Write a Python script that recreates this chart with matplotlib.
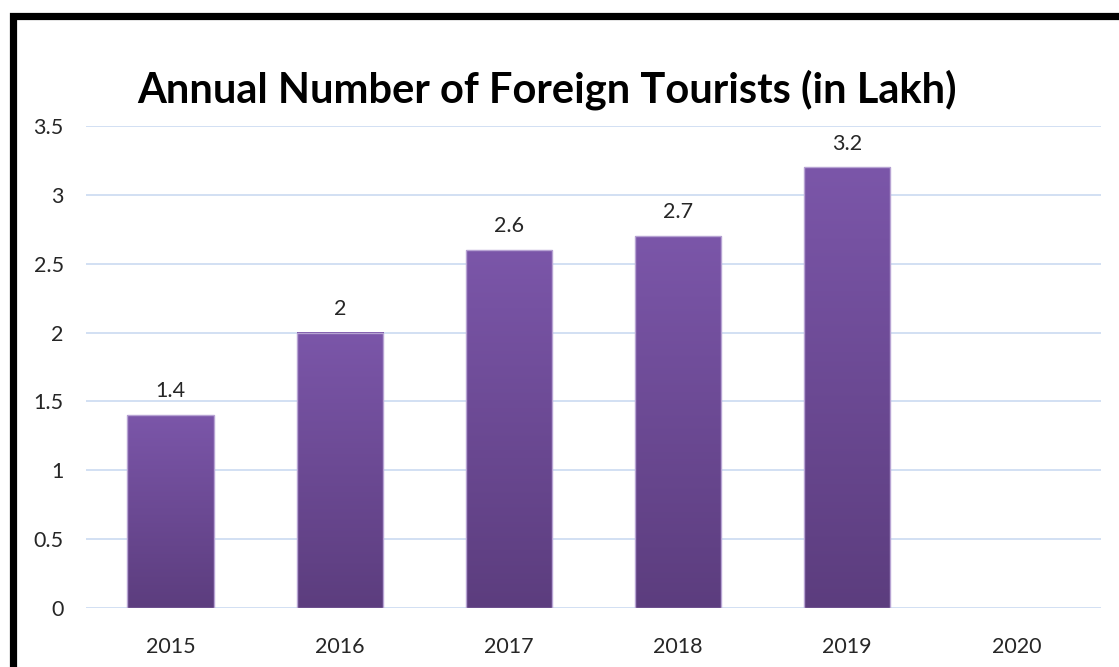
"""
Annual number of foreign tourists - bar chart with gradient bars
"""
import numpy as np
import matplotlib.pyplot as plt
from matplotlib.colors import LinearSegmentedColormap
from matplotlib.patches import Rectangle

# Data
years = ['2015', '2016', '2017', '2018', '2019', '2020']
tourists = [1.4, 2.0, 2.6, 2.7, 3.2, np.nan]   # 2020 has no bar
value_labels = ['1.4', '2', '2.6', '2.7', '3.2', '']
yticks = [0, 0.5, 1, 1.5, 2, 2.5, 3, 3.5]
ytick_labels = ['0', '0.5', '1', '1.5', '2', '2.5', '3', '3.5']

plt.rcParams['font.family'] = ['Lato', 'DejaVu Sans']

fig = plt.figure(figsize=(11.19, 6.67), dpi=100)
ax = fig.add_axes([0.0769, 0.0885, 0.907, 0.7225])

x = np.arange(len(years))
heights = np.nan_to_num(tourists)
bars = ax.bar(x, heights, width=0.51, color='none', edgecolor='none', zorder=2)

# gradient fill for each bar (light purple on top, darker at bottom)
cmap = LinearSegmentedColormap.from_list('purp', ['#5C3D7E', '#7B56A9'])
grad = np.linspace(0, 1, 256).reshape(-1, 1)
for b, v, lab in zip(bars, tourists, value_labels):
    if np.isnan(v):
        continue
    x0 = b.get_x()
    x1 = x0 + b.get_width()
    ax.imshow(grad, cmap=cmap, origin='lower', aspect='auto',
              extent=(x0, x1, 0, v), zorder=3)
    ax.add_patch(Rectangle((x0, 0), b.get_width(), v, fill=False,
                           edgecolor='#B7A3D3', linewidth=1.0, zorder=4))
    ax.text(x0 + b.get_width() / 2, v + 0.1, lab, ha='center', va='bottom',
            fontsize=15.5, color='#262626')

ax.set_xlim(-0.5, len(years) - 0.5)
ax.set_ylim(0, 3.5)
ax.set_xticks(x)
ax.set_xticklabels(years, fontsize=15.5, color='#262626')
ax.set_yticks(yticks)
ax.set_yticklabels(ytick_labels, fontsize=15.5, color='#262626')
ax.tick_params(length=0)
ax.tick_params(axis='x', pad=21)
ax.tick_params(axis='y', pad=16)
ax.grid(axis='y', color='#CFDDF2', linewidth=1.3, zorder=0)
ax.set_axisbelow(True)
for s in ax.spines.values():
    s.set_visible(False)

# Title
fig.text(0.489, 0.865, 'Annual Number of Foreign Tourists (in Lakh)',
         ha='center', va='center', fontsize=30, fontweight='bold', color='black')

# Black frame around the chart (runs off the right and bottom edges)
fig.patches.append(Rectangle((13 / 1119, -0.2), 1.5, 1.2 - 15.5 / 667,
                             transform=fig.transFigure, fill=False,
                             edgecolor='black', linewidth=5.2, zorder=10))

fig.savefig('out.png', dpi=100, facecolor='white')
